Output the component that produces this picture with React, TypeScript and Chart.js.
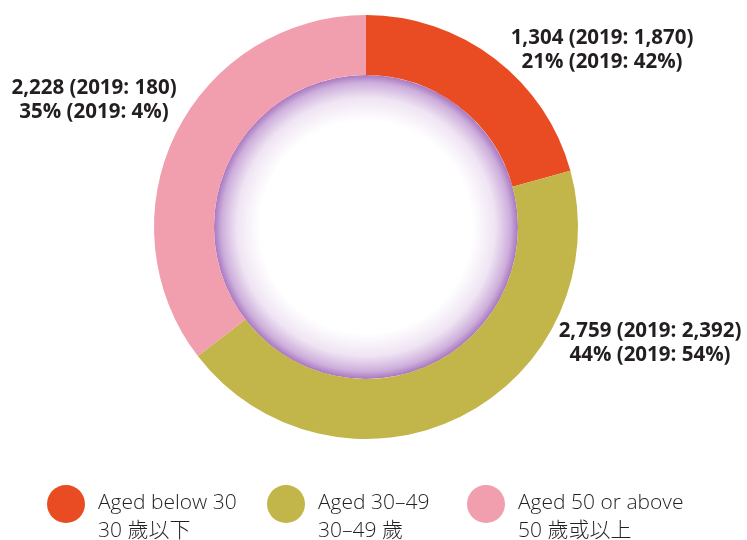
import React, { useEffect, useRef } from "react";
import { Chart, registerables } from "chart.js";

Chart.register(...registerables);

const categoriesEn = ["Aged below 30", "Aged 30–49", "Aged 50 or above"];
const categoriesZh = ["30 歲以下", "30–49 歲", "50 歲或以上"];
const values2020 = [1304, 2759, 2228];
const values2019 = [1870, 2392, 180];
const percent2020 = [21, 44, 35];
const percent2019 = [42, 54, 4];
const colors = ["#E94B22", "#C2B54A", "#F19EAF"];

// label anchor offsets relative to the doughnut centre (in px)
const labelOffsets = [
  { dx: 236, dy: -177 },
  { dx: 284, dy: 116 },
  { dx: -272, dy: -127 },
];
const legendX = [66, 286, 486];
const legendY = 504;

const fmt = (n: number) => n.toLocaleString("en-US");

const W = 747;
const H = 540;

export default function App() {
  const ref = useRef<HTMLCanvasElement | null>(null);
  useEffect(() => {
    if (!ref.current) return;
    const overlay = {
      id: "overlay",
      beforeDatasetsDraw(chart: any) {
        const arc = chart.getDatasetMeta(0).data[0] as any;
        if (!arc) return;
        const { x, y, innerRadius } = arc;
        const ctx = chart.ctx;
        ctx.save();
        const g = ctx.createRadialGradient(x, y, 0, x, y, innerRadius);
        g.addColorStop(0, "#ffffff");
        g.addColorStop(0.7, "#ffffff");
        g.addColorStop(0.85, "#EFE4F3");
        g.addColorStop(0.95, "#CDAEDB");
        g.addColorStop(1, "#A877C0");
        ctx.fillStyle = g;
        ctx.beginPath();
        ctx.arc(x, y, innerRadius, 0, Math.PI * 2);
        ctx.fill();
        ctx.restore();
      },
      afterDraw(chart: any) {
        const arc = chart.getDatasetMeta(0).data[0] as any;
        if (!arc) return;
        const { x, y } = arc;
        const ctx = chart.ctx;
        ctx.save();
        ctx.fillStyle = "#231F20";
        ctx.font = "bold 20.5px 'Open Sans', 'Noto Sans', sans-serif";
        ctx.textAlign = "center";
        ctx.textBaseline = "middle";
        values2020.forEach((v, i) => {
          const o = labelOffsets[i];
          const lx = x + o.dx;
          const ly = y + o.dy;
          ctx.fillText(`${fmt(v)} (2019: ${fmt(values2019[i])})`, lx, ly - 12);
          ctx.fillText(`${percent2020[i]}% (2019: ${percent2019[i]}%)`, lx, ly + 12);
        });
        // legend
        categoriesEn.forEach((c, i) => {
          const cx = legendX[i];
          ctx.fillStyle = colors[i];
          ctx.beginPath();
          ctx.arc(cx, legendY, 19, 0, Math.PI * 2);
          ctx.fill();
          ctx.fillStyle = "#231F20";
          ctx.textAlign = "left";
          ctx.textBaseline = "middle";
          ctx.font = "300 21px 'Open Sans', 'Noto Sans CJK TC', sans-serif";
          ctx.fillText(c, cx + 32, legendY - 1);
          ctx.fillText(categoriesZh[i], cx + 32, legendY + 27);
        });
        ctx.restore();
      },
    };
    const chart = new Chart(ref.current, {
      type: "doughnut",
      data: {
        labels: categoriesEn,
        datasets: [
          {
            data: values2020,
            backgroundColor: colors,
            borderWidth: 0,
            hoverOffset: 0,
          },
        ],
      },
      options: {
        responsive: false,
        animation: false,
        cutout: "71.7%",
        layout: { padding: { left: 154, right: 169, top: 15, bottom: 101 } },
        plugins: { legend: { display: false }, tooltip: { enabled: false } },
      },
      plugins: [overlay],
    });
    return () => chart.destroy();
  }, []);
  return (
    <div style={{ position: "fixed", left: 0, top: 0, width: W, height: H, background: "#fff" }}>
      <canvas ref={ref} width={W} height={H} style={{ width: W, height: H, display: "block" }} />
    </div>
  );
}
